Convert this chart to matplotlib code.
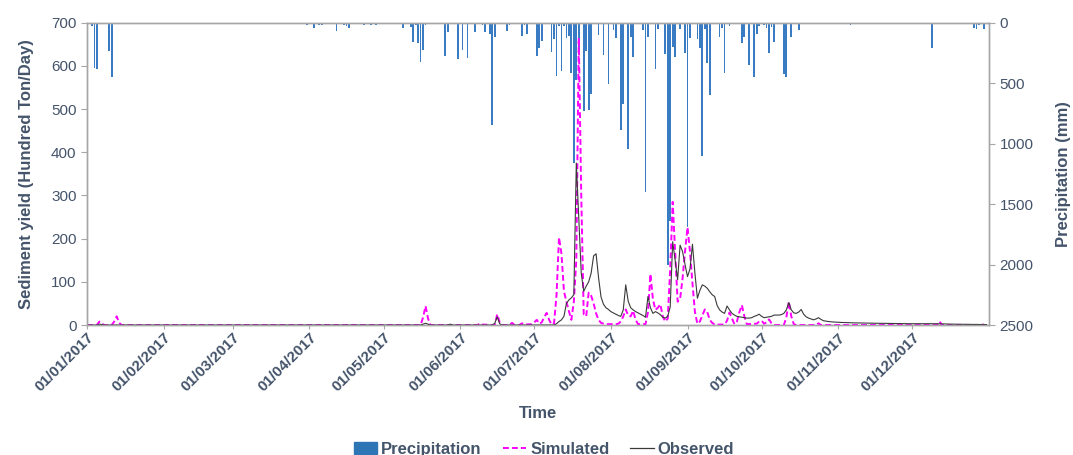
import matplotlib
matplotlib.use("Agg")
import matplotlib.pyplot as plt
from matplotlib.patches import Patch
from matplotlib.lines import Line2D
import pandas as pd

plt.rcParams['font.family'] = ['Liberation Sans', 'DejaVu Sans']

START = pd.Timestamp('2017-01-01')

# daily precipitation (mm), only rainy days listed (day of year, 0 = 1 Jan)
precip_day = [0, 2, 3, 4, 9, 10, 89, 92, 94, 95, 101, 104, 105, 106, 112, 115, 117,
              128, 131, 132, 133, 134, 135, 136, 137, 145, 146, 150, 152, 154, 157,
              160, 161, 163, 164, 165, 170, 171, 176, 177, 178, 182, 183, 184, 188,
              189, 190, 191, 192, 193, 194, 195, 196, 197, 198, 199, 201, 202, 203,
              204, 207, 209, 211, 213, 214, 216, 217, 219, 220, 221, 225, 226, 227,
              230, 231, 234, 235, 236, 237, 238, 240, 242, 243, 244, 247, 248, 249,
              250, 251, 252, 256, 257, 258, 260, 265, 266, 268, 270, 271, 272, 274,
              275, 276, 277, 278, 282, 283, 285, 288, 309, 342, 359, 360, 361, 363]
precip_mm = [192, 27, 376, 384, 230, 452, 20, 40, 20, 20, 70, 20, 25, 45, 15, 20, 15,
             47, 37, 162, 20, 170, 321, 225, 20, 274, 80, 302, 225, 293, 74,
             20, 80, 90, 850, 120, 70, 20, 110, 20, 90, 274, 210, 150, 244,
             137, 444, 30, 397, 30, 130, 110, 417, 1160, 471, 252, 732, 238, 718,
             587, 105, 270, 508, 60, 130, 886, 673, 1047, 120, 280, 60, 1402, 115,
             386, 50, 260, 2000, 1640, 200, 282, 50, 252, 1691, 124, 135, 206, 1102,
             50, 334, 600, 115, 40, 417, 30, 170, 120, 348, 452, 95, 30, 20,
             40, 252, 35, 160, 422, 452, 115, 60, 15, 211, 40, 55, 20, 55]

# simulated sediment yield (hundred ton/day)
sim_day = [0, 4, 5, 6, 7, 10, 11, 12, 13, 14, 135, 136, 137, 138, 139, 158, 159, 160,
           165, 166, 167, 168, 171, 172, 173, 175, 176, 177, 180, 181, 182, 183, 184,
           185, 186, 187, 188, 189, 190, 191, 192, 193, 194, 195, 196, 197, 198, 199,
           200, 201, 202, 203, 204, 205, 206, 207, 208, 209, 210, 214, 215, 216, 217,
           218, 219, 220, 221, 222, 223, 226, 227, 228, 229, 230, 231, 232, 233, 234,
           235, 236, 237, 238, 239, 240, 241, 242, 243, 244, 245, 246, 247, 248, 249,
           250, 251, 252, 253, 254, 258, 259, 260, 261, 262, 263, 264, 265, 266, 267,
           271, 272, 273, 274, 275, 276, 277, 278, 282, 283, 284, 285, 286, 287, 295,
           296, 297, 344, 345, 346, 361, 362, 363, 364]
sim_val = [0, 0, 8, 3, 0, 0, 8, 20, 5, 0, 0, 18, 44, 15, 0, 0, 4, 1,
           0, 25, 6, 0, 0, 5, 0, 0, 4, 1, 2, 6, 12, 3, 6,
           18, 28, 12, 1, 4, 70, 203, 165, 78, 54, 32, 12, 54, 150, 665,
           300, 25, 20, 75, 68, 50, 27, 12, 5, 3, 2, 2, 3, 8, 20,
           36, 22, 20, 33, 12, 2, 2, 30, 118, 60, 35, 40, 48, 20, 8,
           15, 130, 285, 170, 54, 60, 108, 170, 226, 170, 97, 30, 3, 8, 22,
           36, 30, 12, 5, 1, 1, 10, 29, 15, 2, 8, 30, 46, 20, 2,
           3, 8, 10, 3, 6, 13, 4, 0, 0, 18, 54, 20, 2, 0, 0,
           4, 0, 0, 8, 0, 0, 3, 0, 0]

# observed sediment yield (hundred ton/day)
obs_day = [0, 4, 5, 7, 135, 136, 137, 138, 139, 146, 147, 148, 164, 165, 166, 167, 168,
           189, 190, 191, 192, 193, 194, 195, 196, 197, 198, 199, 200, 201, 202, 203,
           204, 205, 206, 207, 208, 209, 210, 211, 212, 213, 214, 215, 216, 217, 218,
           219, 220, 221, 222, 223, 224, 225, 226, 227, 228, 229, 230, 231, 232, 233,
           234, 235, 236, 237, 238, 239, 240, 241, 242, 243, 244, 245, 246, 247, 248,
           249, 250, 251, 252, 253, 254, 255, 256, 257, 258, 259, 260, 261, 262, 263,
           264, 265, 266, 267, 268, 269, 270, 271, 272, 273, 274, 275, 276, 277, 278,
           279, 280, 281, 282, 283, 284, 285, 286, 287, 288, 289, 290, 291, 292, 293,
           294, 295, 296, 297, 298, 299, 300, 302, 305, 310, 320, 333, 344, 350, 364]
obs_val = [0, 0, 2, 0, 0, 2, 4, 2, 0, 0, 2, 0, 0, 4, 19, 3, 0,
           0, 3, 8, 12, 20, 50, 58, 63, 70, 375, 250, 120, 78, 90, 100,
           120, 160, 165, 110, 65, 48, 40, 36, 31, 28, 25, 22, 20, 35, 93,
           55, 40, 35, 31, 28, 25, 22, 18, 66, 40, 27, 31, 28, 24, 18,
           16, 20, 42, 193, 150, 105, 185, 170, 140, 112, 130, 187, 120, 62, 80,
           93, 90, 85, 77, 70, 66, 45, 35, 30, 27, 44, 35, 27, 23, 20,
           19, 18, 17, 16, 16, 17, 20, 22, 25, 20, 17, 18, 19, 20, 23,
           23, 23, 24, 27, 35, 52, 35, 28, 27, 30, 36, 25, 19, 16, 14,
           12, 14, 17, 13, 10, 9, 8, 7, 6, 5, 4, 3, 3, 2, 1]

month_labels = ['01/01/2017', '01/02/2017', '01/03/2017', '01/04/2017',
                '01/05/2017', '01/06/2017', '01/07/2017', '01/08/2017',
                '01/09/2017', '01/10/2017', '01/11/2017', '01/12/2017']


def to_dates(days):
    return START + pd.to_timedelta(days, unit='D')


txt = '#44546A'
grey = '#A6A6A6'

fig = plt.figure(figsize=(10.73, 4.55), dpi=100)
ax = fig.add_axes([0.0811, 0.2857, 0.8406, 0.6644])
ax2 = ax.twinx()

# rain bars hang from the top on the inverted right axis
ax2.bar(to_dates(precip_day), precip_mm, width=0.7, color='#3A7CC4', linewidth=0)
ax2.set_ylim(2500, 0)
ax2.set_yticks(range(0, 2501, 500))

ax.plot(to_dates(sim_day), sim_val, color='#FF00FF', lw=1.4, ls=(0, (3, 1.6)))
ax.plot(to_dates(obs_day), obs_val, color='#3a3a3a', lw=0.8)
ax.set_ylim(0, 700)
ax.set_yticks(range(0, 701, 100))
ax.set_xlim(START, pd.Timestamp('2018-01-01'))

# lines above the bars
ax.set_zorder(ax2.get_zorder() + 1)
ax.patch.set_visible(False)

ticks = pd.date_range('2017-01-01', periods=12, freq='MS')
ax.set_xticks(ticks)
ax.set_xticklabels(month_labels, rotation=45, ha='right', rotation_mode='anchor',
                   fontsize=10.5, fontweight='bold', color=txt)

for a in (ax, ax2):
    for s in a.spines.values():
        s.set_color(grey)
        s.set_linewidth(1.0)
    a.tick_params(colors=grey, labelcolor=txt, labelsize=11, length=4)
ax.tick_params(axis='x', length=3, pad=1)

ax.set_ylabel('Sediment yield (Hundred Ton/Day)', fontsize=12, fontweight='bold',
              color=txt, labelpad=12)
ax2.set_ylabel('Precipitation (mm)', fontsize=12, fontweight='bold', color=txt,
               labelpad=16)
ax.set_xlabel('Time', fontsize=12, fontweight='bold', color=txt, labelpad=8)

handles = [Patch(color='#2E75B6'),
           Line2D([], [], color='#FF00FF', lw=1.4, ls=(0, (3, 1.6))),
           Line2D([], [], color='#3a3a3a', lw=0.9)]
fig.legend(handles, ['Precipitation', 'Simulated', 'Observed'], loc='center',
           bbox_to_anchor=(0.507, 0.012), ncol=3, frameon=False,
           prop={'size': 12, 'weight': 'bold'}, labelcolor=txt,
           handlelength=1.4, handletextpad=0.25, columnspacing=1.25)

fig.savefig('out.png', dpi=100)
